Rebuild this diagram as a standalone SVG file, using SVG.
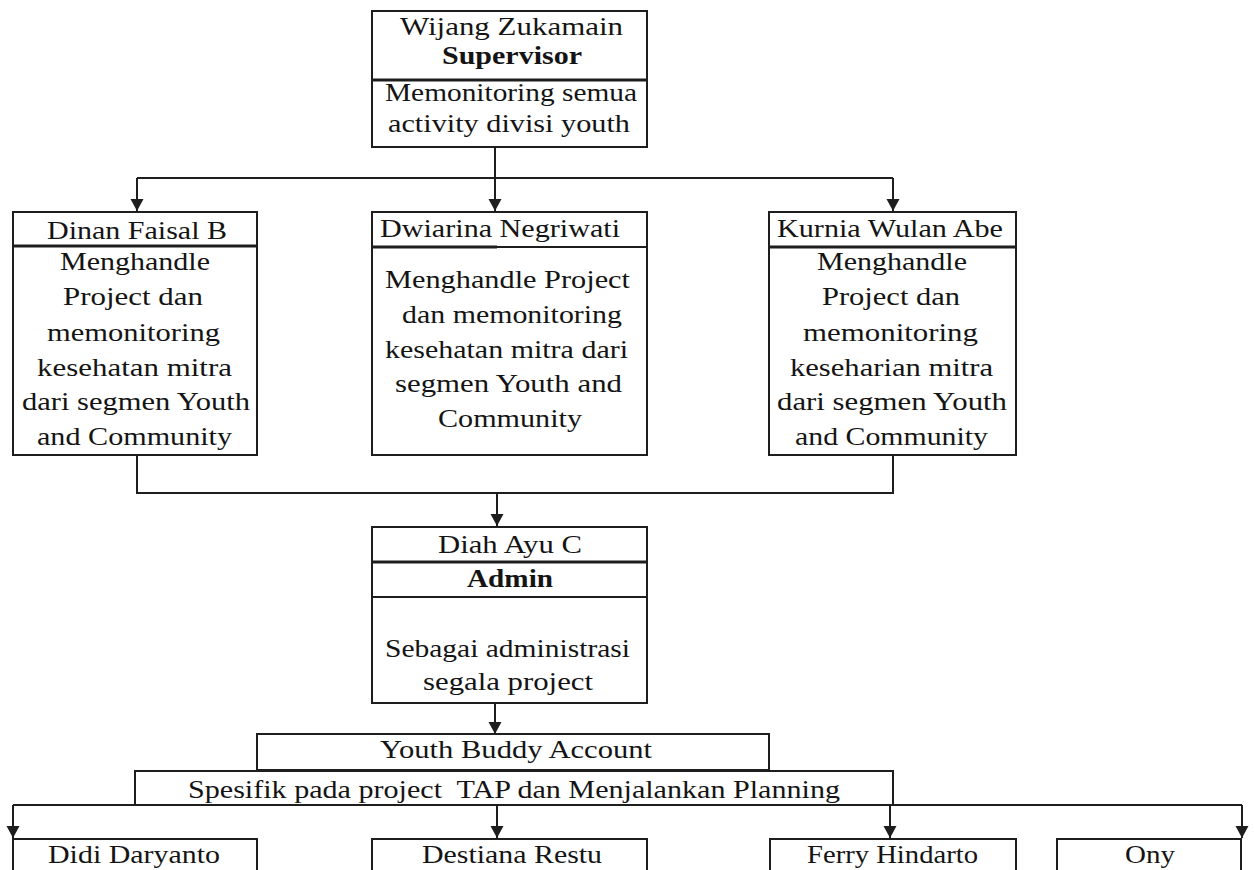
<svg xmlns="http://www.w3.org/2000/svg" width="1254" height="870" viewBox="0 0 1254 870">
<style>
.box{fill:#fff;stroke:#1e1e1e;stroke-width:2}
.div{stroke:#1e1e1e;stroke-width:3;fill:none}
.div1{stroke:#1e1e1e;stroke-width:2;fill:none}
.t{font-family:"Liberation Serif","Times New Roman",serif;font-size:26px;fill:#141414;text-anchor:middle}
.b{font-weight:bold}
.c{stroke:#1e1e1e;stroke-width:2;fill:none}
.a{stroke:#1e1e1e;stroke-width:2;fill:none;marker-end:url(#arr)}
</style>
<defs>
<marker id="arr" markerUnits="userSpaceOnUse" markerWidth="14" markerHeight="14" refX="12" refY="7" orient="auto">
<path d="M0,0.5 L12,7 L0,13.5 z" fill="#1e1e1e"/>
</marker>
</defs>
<rect width="1254" height="870" fill="#fff"/>
<g id="connectors">
<path class="c" d="M495,147 V178 M137,178 H893"/>
<path class="a" d="M137,178 V211"/>
<path class="a" d="M495,178 V211"/>
<path class="a" d="M893,178 V211"/>
<path class="c" d="M137,455 V493 H893 V455"/>
<path class="a" d="M497,493 V526"/>
<path class="a" d="M495,703 V734"/>
<path class="c" d="M13,805 H1242"/>
<path class="a" d="M13,805 V838"/>
<path class="a" d="M497,805 V838"/>
<path class="a" d="M890,805 V838"/>
<path class="a" d="M1242,805 V838"/>
</g>
<g id="supervisor">
<rect class="box" x="372" y="11" width="275" height="136"/>
<line class="div" x1="372" y1="80" x2="647" y2="80"/>
<text class="t" x="511.5" y="35" textLength="223" lengthAdjust="spacingAndGlyphs">Wijang Zukamain</text>
<text class="t b" x="512" y="64" textLength="140" lengthAdjust="spacingAndGlyphs">Supervisor</text>
<text class="t" x="511" y="101" textLength="252" lengthAdjust="spacingAndGlyphs">Memonitoring semua</text>
<text class="t" x="509" y="132" textLength="242" lengthAdjust="spacingAndGlyphs">activity divisi youth</text>
</g>
<g id="dinan">
<rect class="box" x="13" y="212" width="244" height="243"/>
<line class="div" x1="13" y1="246" x2="257" y2="246"/>
<text class="t" x="137" y="239" textLength="180" lengthAdjust="spacingAndGlyphs">Dinan Faisal B</text>
<text class="t" x="135" y="270" textLength="150" lengthAdjust="spacingAndGlyphs">Menghandle</text>
<text class="t" x="133" y="305" textLength="140" lengthAdjust="spacingAndGlyphs">Project dan</text>
<text class="t" x="133.5" y="341" textLength="173" lengthAdjust="spacingAndGlyphs">memonitoring</text>
<text class="t" x="134.5" y="376" textLength="195" lengthAdjust="spacingAndGlyphs">kesehatan mitra</text>
<text class="t" x="136" y="410" textLength="228" lengthAdjust="spacingAndGlyphs">dari segmen Youth</text>
<text class="t" x="134.5" y="445" textLength="195" lengthAdjust="spacingAndGlyphs">and Community</text>
</g>
<g id="dwiarina">
<rect class="box" x="372" y="212" width="275" height="243"/>
<line class="div" x1="372" y1="247" x2="497" y2="247"/>
<line class="div1" x1="497" y1="247" x2="647" y2="247"/>
<text class="t" x="500" y="237" textLength="240" lengthAdjust="spacingAndGlyphs">Dwiarina Negriwati</text>
<text class="t" x="507.5" y="288" textLength="245" lengthAdjust="spacingAndGlyphs">Menghandle Project</text>
<text class="t" x="512" y="323" textLength="220" lengthAdjust="spacingAndGlyphs">dan memonitoring</text>
<text class="t" x="506.5" y="358" textLength="243" lengthAdjust="spacingAndGlyphs">kesehatan mitra dari</text>
<text class="t" x="508.5" y="392" textLength="227" lengthAdjust="spacingAndGlyphs">segmen Youth and</text>
<text class="t" x="510" y="427" textLength="144" lengthAdjust="spacingAndGlyphs">Community</text>
</g>
<g id="kurnia">
<rect class="box" x="769" y="212" width="247" height="243"/>
<line class="div" x1="769" y1="247" x2="1016" y2="247"/>
<text class="t" x="890" y="237" textLength="226" lengthAdjust="spacingAndGlyphs">Kurnia Wulan Abe</text>
<text class="t" x="892" y="270" textLength="150" lengthAdjust="spacingAndGlyphs">Menghandle</text>
<text class="t" x="891" y="305" textLength="138" lengthAdjust="spacingAndGlyphs">Project dan</text>
<text class="t" x="890.5" y="341" textLength="175" lengthAdjust="spacingAndGlyphs">memonitoring</text>
<text class="t" x="891.5" y="376" textLength="203" lengthAdjust="spacingAndGlyphs">keseharian mitra</text>
<text class="t" x="892" y="410" textLength="230" lengthAdjust="spacingAndGlyphs">dari segmen Youth</text>
<text class="t" x="891.5" y="445" textLength="193" lengthAdjust="spacingAndGlyphs">and Community</text>
</g>
<g id="admin">
<rect class="box" x="372" y="527" width="275" height="176"/>
<line class="div" x1="372" y1="562" x2="647" y2="562"/>
<line class="div1" x1="372" y1="597" x2="647" y2="597"/>
<text class="t" x="510" y="553" textLength="144" lengthAdjust="spacingAndGlyphs">Diah Ayu C</text>
<text class="t b" x="510" y="587" textLength="86" lengthAdjust="spacingAndGlyphs">Admin</text>
<text class="t" x="507.5" y="657" textLength="245" lengthAdjust="spacingAndGlyphs">Sebagai administrasi</text>
<text class="t" x="508" y="690" textLength="170" lengthAdjust="spacingAndGlyphs">segala project</text>
</g>
<g id="youth-buddy">
<rect class="box" x="257" y="734" width="512" height="36"/>
<text class="t" x="516" y="758" textLength="272" lengthAdjust="spacingAndGlyphs">Youth Buddy Account</text>
</g>
<g id="spesifik">
<rect class="box" x="135" y="771" width="758" height="34"/>
<text class="t" x="514" y="798" textLength="652" lengthAdjust="spacingAndGlyphs" xml:space="preserve">Spesifik pada project  TAP dan Menjalankan Planning</text>
</g>
<g id="didi">
<rect class="box" x="13" y="839" width="244" height="60"/>
<text class="t" x="134" y="863" textLength="172" lengthAdjust="spacingAndGlyphs">Didi Daryanto</text>
</g>
<g id="destiana">
<rect class="box" x="372" y="839" width="275" height="60"/>
<text class="t" x="512" y="863" textLength="180" lengthAdjust="spacingAndGlyphs">Destiana Restu</text>
</g>
<g id="ferry">
<rect class="box" x="770" y="839" width="246" height="60"/>
<text class="t" x="892.5" y="863" textLength="171" lengthAdjust="spacingAndGlyphs">Ferry Hindarto</text>
</g>
<g id="ony">
<rect class="box" x="1057" y="839" width="184" height="60"/>
<text class="t" x="1150" y="863" textLength="50" lengthAdjust="spacingAndGlyphs">Ony</text>
</g>
</svg>
